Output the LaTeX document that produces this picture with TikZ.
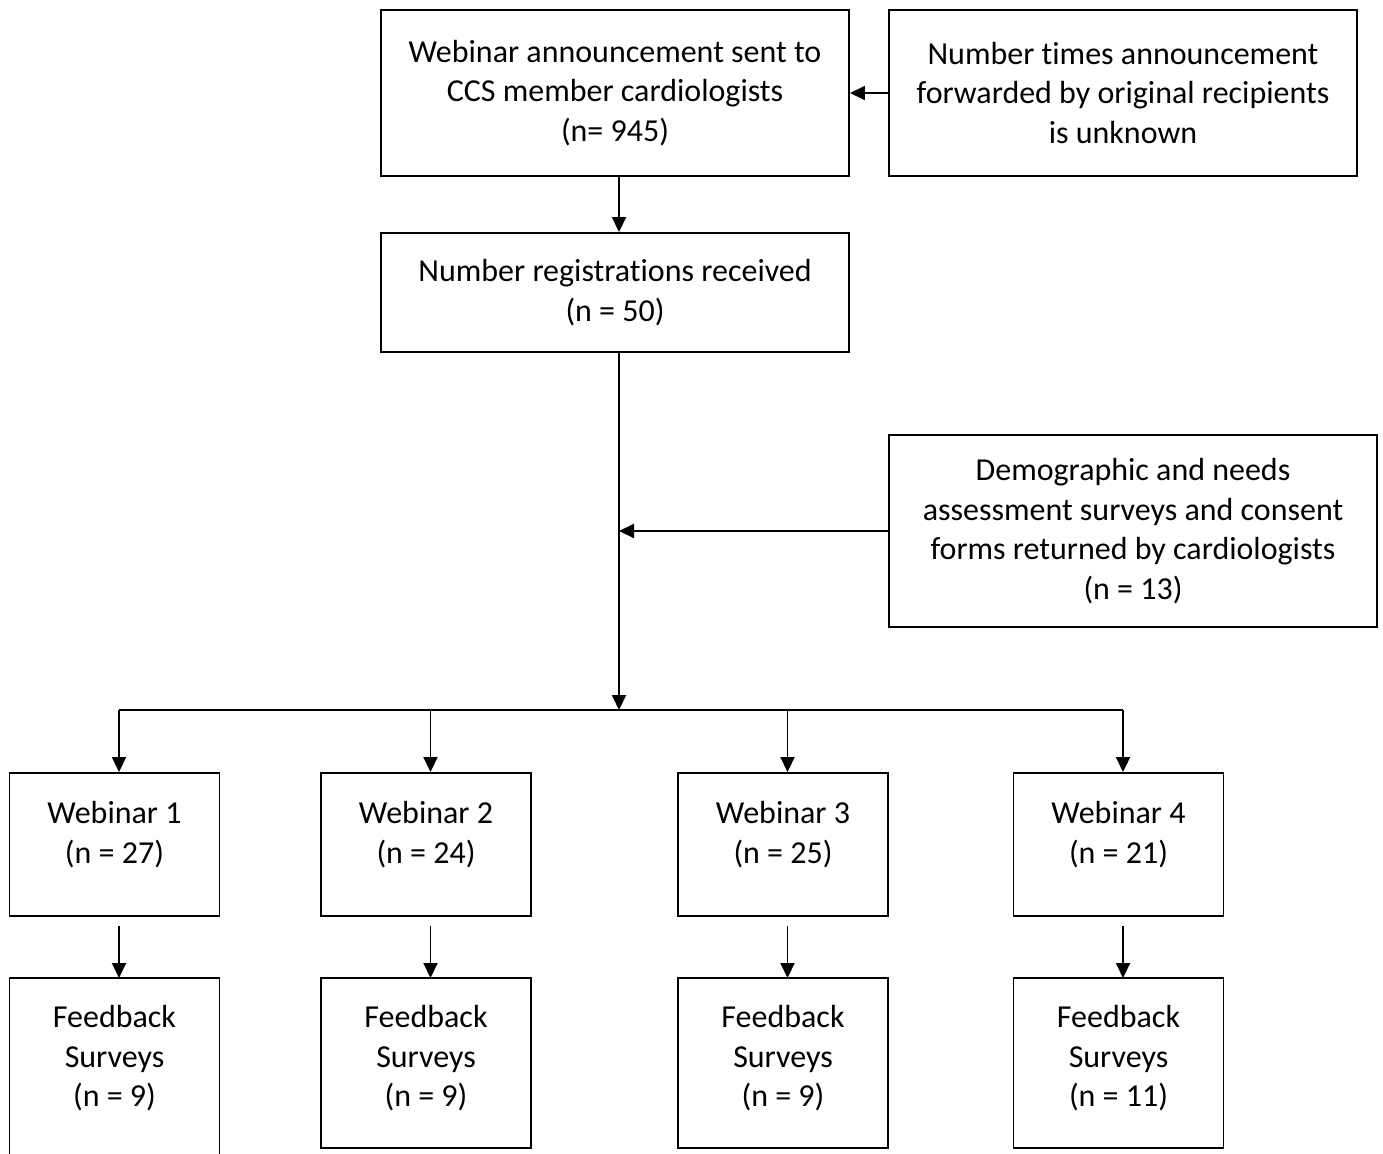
\documentclass[tikz,border=0pt]{standalone}
\usepackage{fontspec}
\setmainfont{Carlito}[Ligatures=NoCommon]
\usetikzlibrary{arrows.meta,positioning,calc}

\begin{document}
\begin{tikzpicture}[
    every node/.style={font=\fontsize{18.2}{22.5}\selectfont},
    box/.style={draw, line width=1.1pt, align=center, inner sep=0pt},
    link/.style={line width=1.1pt, -{Triangle[length=0.3cm, width=0.28cm]}},
]
    \useasboundingbox (0,0) rectangle (27.66,-23.06);

    % Announcement, forwarding and registrations
    \node[box, minimum width=9.36cm, minimum height=3.32cm] (announce) at (12.3,-1.86) {Webinar announcement sent to\\CCS member cardiologists\\(n= 945)};
    \node[box, minimum width=9.36cm, minimum height=3.32cm] (forward) at (22.46,-1.86) {Number times announcement\\forwarded by original recipients\\is unknown};
    \node[box, minimum width=9.36cm, minimum height=2.38cm] (regist) at (12.3,-5.85) {Number registrations received\\(n = 50)};

    % Surveys returned
    \node[box, minimum width=9.76cm, minimum height=3.84cm] (surveys) at (22.66,-10.62) {Demographic and needs\\assessment surveys and consent\\forms returned by cardiologists\\(n = 13)};

    % Split point above the webinars
    \coordinate (split) at (12.38,-14.2);

    % Webinars and feedback
    \node[box, minimum width=4.2cm, minimum height=2.86cm, text depth=0.48cm] (web1) at (2.29,-16.89) {Webinar 1\\(n = 27)};
    \node[box, minimum width=4.2cm, minimum height=2.86cm, text depth=0.48cm] (web2) at (8.52,-16.89) {Webinar 2\\(n = 24)};
    \node[box, minimum width=4.2cm, minimum height=2.86cm, text depth=0.48cm] (web3) at (15.66,-16.89) {Webinar 3\\(n = 25)};
    \node[box, minimum width=4.2cm, minimum height=2.86cm, text depth=0.48cm] (web4) at (22.37,-16.89) {Webinar 4\\(n = 21)};

    \node[box, minimum width=4.2cm, minimum height=3.84cm, text depth=0.72cm] (feed1) at (2.29,-21.48) {Feedback\\Surveys\\(n = 9)};
    \node[box, minimum width=4.2cm, minimum height=3.4cm, text depth=0.28cm] (feed2) at (8.52,-21.26) {Feedback\\Surveys\\(n = 9)};
    \node[box, minimum width=4.2cm, minimum height=3.4cm, text depth=0.28cm] (feed3) at (15.66,-21.26) {Feedback\\Surveys\\(n = 9)};
    \node[box, minimum width=4.2cm, minimum height=3.4cm, text depth=0.28cm] (feed4) at (22.37,-21.26) {Feedback\\Surveys\\(n = 11)};

    % Connectors
    \draw[link] (forward.west) -- (announce.east);
    \draw[link] (announce.south -| split) -- (regist.north -| split);
    \draw[link] (regist.south -| split) -- (split);
    \draw[link] (surveys.west) -- (surveys.west -| split);
    \draw[line width=1.1pt] ([xshift=0.09cm]web1.north |- split) -- ([xshift=0.09cm]web4.north |- split);
    \foreach \i in {1,...,4} {
        \draw[link] ([xshift=0.09cm]web\i.north |- split) -- ([xshift=0.09cm]web\i.north);
        \draw[link, shorten <=0.18cm] ([xshift=0.09cm]web\i.south) -- ([xshift=0.09cm]feed\i.north |- 0,-19.56);
    }
\end{tikzpicture}
\end{document}
